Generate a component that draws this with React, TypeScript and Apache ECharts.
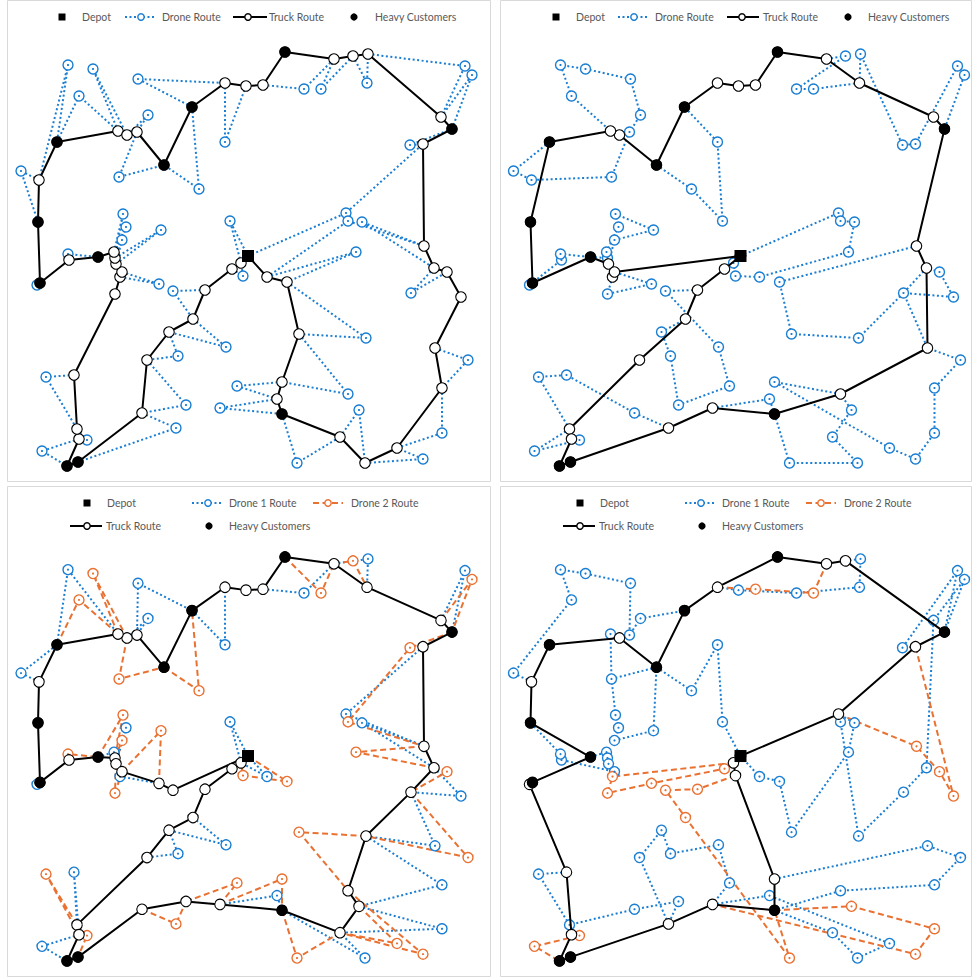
import React, { useEffect, useRef } from "react";
import * as echarts from "echarts";

// Customer coordinates (index 0 = depot)
const nodeX = [248,285,334,353,368,465,472,367,304,321,263,246,225,138,192,225,199,164,119,148,118,127,137,79,93,68,57,39,21,38,441,452,423,410,346,348,362,424,230,123,126,122,161,68,69,98,114,115,116,122,120,40,37,241,232,243,267,287,356,159,173,205,115,193,169,226,178,147,299,366,434,447,411,461,435,468,442,46,74,237,282,348,277,220,282,186,142,359,176,77,79,87,42,67,78,340,297,365,397,423,442];
const nodeY = [256,52,59,56,54,66,75,83,89,89,85,86,83,79,107,142,189,165,177,115,131,135,132,96,69,65,142,180,171,222,117,129,144,145,213,221,222,246,221,214,227,240,230,254,260,257,252,258,264,272,277,283,285,263,269,276,277,282,252,284,291,290,294,319,332,347,356,360,334,338,268,272,293,297,348,360,388,377,375,386,382,394,399,408,414,405,413,410,428,429,439,440,451,466,462,437,463,463,448,459,433];
const heavyNodes = [1,14,17,26,29,31,45,51,84,93,94];
const depotNode = 0;

// Panel 1: single drone, single-customer sorties
const panel1Truck = [0,53,54,61,63,64,67,86,94,93,90,89,78,62,50,49,48,47,46,45,44,51,29,27,26,20,21,22,17,14,12,11,10,1,2,3,4,30,31,32,37,70,71,73,74,76,98,97,95,84,82,80,68,57,56,0];
const panel1Drone = [[27,25,26],[26,23,20],[20,24,21],[29,28,27],[14,13,12],[21,19,22],[22,18,17],[12,15,11],[14,16,17],[10,8,2],[2,9,3],[3,7,4],[4,5,30],[30,6,31],[31,33,32],[0,34,32],[56,35,37],[37,36,70],[53,38,0],[44,43,45],[51,52,51],[54,55,53],[56,58,57],[49,59,50],[61,60,63],[63,65,64],[64,66,67],[57,69,68],[68,81,80],[80,79,82],[82,83,84],[84,96,95],[95,87,97],[97,99,98],[98,100,76],[74,75,76],[70,72,71],[78,77,89],[67,85,86],[86,88,94],[89,91,90],[90,92,93],[46,39,47],[46,40,47],[46,41,48],[47,42,48]];

// Panel 2: single drone, multi-customer sorties
const panel2Truck = [0,54,61,63,67,89,90,93,94,88,83,84,81,74,70,37,31,30,7,2,1,10,11,12,14,17,21,20,26,29,51,45,48,50,49,0];
const panel2Drone = [[26,28,27,18,22,19,13,24,25,23,20],[17,16,38,15,14],[2,3,8,9,7],[7,4,33,32,5,6,31],[51,52,44,43,45],[45,47,46,40,39,42,41,48],[50,62,59,49],[61,60,65,79,85,66,64,63],[89,77,78,86,88],[89,92,91,90],[83,82,84],[84,96,97,95,87,81],[81,80,98,99,100,76,75,74],[0,34,35,36,58,56,55,53,0],[37,57,68,69,72,74],[70,72,73,71,70]];

// Panel 3: two drones, single-customer sorties
const panel3Truck = [0,53,54,61,63,64,67,89,90,93,94,86,85,83,84,95,87,81,69,72,70,37,32,31,30,7,2,1,10,11,12,14,17,22,21,20,26,27,29,51,44,45,47,48,49,59,60,0];
const panel3Drone1 = [[27,28,26],[26,25,20],[22,13,14],[21,19,22],[14,15,12],[10,8,2],[2,4,7],[30,5,31],[32,34,37],[37,36,70],[53,38,0],[0,56,53],[70,73,72],[72,74,69],[69,76,87],[87,100,95],[84,97,95],[83,82,84],[64,66,67],[63,65,64],[89,78,90],[90,92,93],[51,52,51],[45,46,47],[49,50,59],[47,40,48]];
const panel3Drone2 = [[26,23,20],[20,24,21],[21,18,17],[17,16,14],[1,9,2],[2,3,7],[30,6,31],[31,33,35,37],[37,58,70],[70,71,72],[72,75,69],[69,68,81],[87,98,95],[81,99,95],[84,96,95],[83,80,84],[85,79,83],[86,88,85],[89,77,90],[90,91,94],[44,43,45],[49,42,59],[48,62,49],[0,57,55,53],[45,39,47],[47,41,48]];

// Panel 4: two drones, multi-customer sorties
const panel4Truck = [0,53,55,80,84,83,88,94,93,90,78,52,51,45,29,27,26,21,17,14,12,1,2,3,31,32,34,0];
const panel4Drone1 = [[27,28,23,25,24,13,22,19,14],[21,20,18,39,40,41,42,17],[17,18],[45,46,47,48,49,44,43,29],[17,16,15,38,0],[12,11,8,7,4,3],[31,6,30,70,72,69,35,34],[32,33,5,31],[0,56,57,68,58,36,34],[80,74,75,76,81,84],[83,82,98,97,95,84],[88,67,64,66,65,79,83],[78,77,89,86,85,88]];
const panel4Drone2 = [[12,10,9,2],[34,37,71,73,32],[53,50,62,59,54,55],[55,61,60,63,96,84],[84,87,100,99,83],[90,91,92,93]];

const BLUE = "#1a7ed2";
const ORANGE = "#E97132";
const DOT: number[] = [2, 2.5];
const DASH: number[] = [6, 3.5];
const FONT = 'Lato, "Liberation Sans", sans-serif';

const pt = (i: number) => [nodeX[i], nodeY[i]];

function droneSeries(gi: number, chains: number[][], color: string, dash: number[]) {
  const interior = Array.from(new Set(chains.flatMap((c) => c.slice(1, -1))));
  return [
    {
      type: "lines",
      coordinateSystem: "cartesian2d",
      xAxisIndex: gi,
      yAxisIndex: gi,
      polyline: true,
      silent: true,
      z: 2,
      data: chains.map((c) => ({ coords: c.map(pt) })),
      lineStyle: { color, width: 2, type: dash, opacity: 1, cap: "butt" },
    },
    {
      type: "scatter",
      xAxisIndex: gi,
      yAxisIndex: gi,
      z: 3,
      silent: true,
      symbol: "circle",
      symbolSize: 10,
      data: interior.map(pt),
      itemStyle: { color: "#fff", borderColor: color, borderWidth: 1.4, opacity: 1 },
    },
    {
      type: "scatter",
      xAxisIndex: gi,
      yAxisIndex: gi,
      z: 4,
      silent: true,
      symbol: "circle",
      symbolSize: 2.2,
      data: interior.map(pt),
      itemStyle: { color, opacity: 1 },
    },
  ];
}

function panelSeries(gi: number, truck: number[], drones: { chains: number[][]; color: string; dash: number[] }[]) {
  const s: any[] = [];
  drones.forEach((d) => s.push(...droneSeries(gi, d.chains, d.color, d.dash)));
  s.push({
    type: "line",
    xAxisIndex: gi,
    yAxisIndex: gi,
    z: 5,
    silent: true,
    data: truck.map(pt),
    symbol: "circle",
    symbolSize: 10.5,
    lineStyle: { color: "#000", width: 2 },
    itemStyle: { color: "#fff", borderColor: "#000", borderWidth: 1.1, opacity: 1 },
  });
  s.push({
    type: "scatter",
    xAxisIndex: gi,
    yAxisIndex: gi,
    z: 6,
    silent: true,
    symbol: "circle",
    symbolSize: 11,
    data: heavyNodes.map(pt),
    itemStyle: { color: "#000", opacity: 1 },
  });
  s.push({
    type: "scatter",
    xAxisIndex: gi,
    yAxisIndex: gi,
    z: 7,
    silent: true,
    symbol: "rect",
    symbolSize: 12,
    data: [pt(depotNode)],
    itemStyle: { color: "#000", opacity: 1 },
  });
  return s;
}

const txt = (x: number, y: number, s: string) => ({
  type: "text",
  silent: true,
  style: { text: s, x, y, fill: "#595959", fontSize: 10.5, fontFamily: FONT, verticalAlign: "middle", align: "left" },
});
const depotIcon = (cx: number, cy: number) => ({ type: "rect", silent: true, shape: { x: cx - 3.5, y: cy - 3.5, width: 7, height: 7 }, style: { fill: "#000" } });
const lineIcon = (x1: number, x2: number, cx: number, cy: number, color: string, dash: number[] | null) => [
  { type: "line", silent: true, shape: { x1, y1: cy, x2, y2: cy }, style: { stroke: color, lineWidth: 2, lineDash: dash || undefined } },
  { type: "circle", silent: true, shape: { cx, cy, r: 3.2 }, style: { fill: "#fff", stroke: color, lineWidth: 1.4 } },
];
const heavyIcon = (cx: number, cy: number) => ({ type: "circle", silent: true, shape: { cx, cy, r: 3.6 }, style: { fill: "#000" } });
const frame = (x: number, y: number, w: number, h: number) => ({ type: "rect", silent: true, shape: { x, y, width: w, height: h }, style: { fill: "none", stroke: "#d9d9d9", lineWidth: 1 } });

function buildGraphic() {
  const g: any[] = [];
  g.push(frame(7.5, 0.5, 483, 481), frame(500.5, 0.5, 471, 481), frame(7.5, 486.5, 483, 490), frame(500.5, 486.5, 471, 490));
  const top = (o: { d: number; dt: number; l1: number; l2: number; lc: number; lt: number; t1: number; t2: number; tc: number; tt: number; h: number; ht: number }) => {
    const y = 17;
    g.push(depotIcon(o.d, y), txt(o.dt, y, "Depot"));
    g.push(...lineIcon(o.l1, o.l2, o.lc, y, BLUE, DOT), txt(o.lt, y, "Drone Route"));
    g.push(...lineIcon(o.t1, o.t2, o.tc, y, "#000", null), txt(o.tt, y, "Truck Route"));
    g.push(heavyIcon(o.h, y), txt(o.ht, y, "Heavy Customers"));
  };
  top({ d: 62, dt: 82, l1: 125, l2: 155, lc: 141, lt: 162, t1: 233, t2: 267, tc: 248, tt: 269, h: 354, ht: 375 });
  top({ d: 556, dt: 576, l1: 618, l2: 648, lc: 634, lt: 655, t1: 727, t2: 759, tc: 742, tt: 763, h: 848, ht: 868 });
  const bottom = (o: number) => {
    const y1 = 503, y2 = 526;
    g.push(depotIcon(87 + o, y1), txt(107 + o, y1, "Depot"));
    g.push(...lineIcon(192 + o, 222 + o, 208 + o, y1, BLUE, DOT), txt(229 + o, y1, "Drone 1 Route"));
    g.push(...lineIcon(313 + o, 343 + o, 328 + o, y1, ORANGE, DASH), txt(351 + o, y1, "Drone 2 Route"));
    g.push(...lineIcon(70 + o, 102 + o, 87 + o, y2, "#000", null), txt(106 + o, y2, "Truck Route"));
    g.push(heavyIcon(209 + o, y2), txt(229 + o, y2, "Heavy Customers"));
  };
  bottom(0);
  bottom(493);
  return g;
}

export default function App() {
  const ref = useRef<HTMLDivElement>(null);
  useEffect(() => {
    if (!ref.current) return;
    const chart = echarts.init(ref.current, undefined, { renderer: "svg" });
    const grids = [
      { left: 0, top: 0, width: 490, height: 482 },
      { left: 492.5, top: 0, width: 490, height: 482 },
      { left: 0, top: 506.2, width: 490, height: 470.4 },
      { left: 492.5, top: 506.2, width: 490, height: 470.4 },
    ];
    const option: any = {
      animation: false,
      backgroundColor: "#fff",
      grid: grids.map((g) => ({ ...g, containLabel: false, outerBoundsMode: "none" })),
      xAxis: grids.map((_, i) => ({ type: "value", gridIndex: i, min: 0, max: 490, show: false })),
      yAxis: grids.map((_, i) => ({ type: "value", gridIndex: i, min: 0, max: 482, inverse: true, show: false })),
      series: [
        ...panelSeries(0, panel1Truck, [{ chains: panel1Drone, color: BLUE, dash: DOT }]),
        ...panelSeries(1, panel2Truck, [{ chains: panel2Drone, color: BLUE, dash: DOT }]),
        ...panelSeries(2, panel3Truck, [
          { chains: panel3Drone1, color: BLUE, dash: DOT },
          { chains: panel3Drone2, color: ORANGE, dash: DASH },
        ]),
        ...panelSeries(3, panel4Truck, [
          { chains: panel4Drone1, color: BLUE, dash: DOT },
          { chains: panel4Drone2, color: ORANGE, dash: DASH },
        ]),
      ],
      graphic: { elements: buildGraphic() },
    };
    chart.setOption(option);
    return () => chart.dispose();
  }, []);
  return <div ref={ref} style={{ position: "fixed", left: 0, top: 0, width: 973, height: 978, background: "#fff" }} />;
}
